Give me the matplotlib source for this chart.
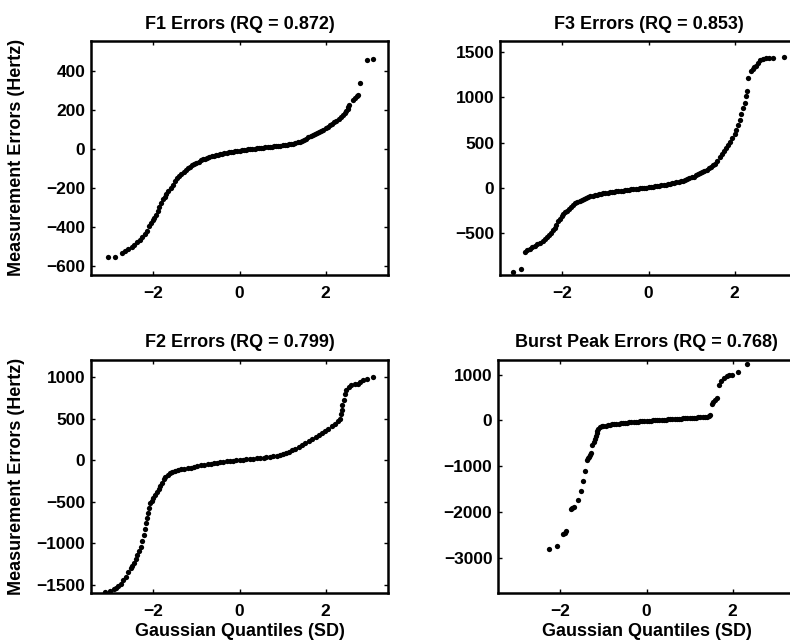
import matplotlib
matplotlib.use("Agg")
import matplotlib.pyplot as plt

plt.rcParams['font.family'] = ['Liberation Sans', 'DejaVu Sans']
plt.rcParams['font.weight'] = 'bold'

f1_q = [-3.05, -2.9, -2.72, -2.65, -2.58, -2.5, -2.44, -2.38, -2.32, -2.26, -2.2, -2.15, -2.1, -2.06, -2.02,
        -1.98, -1.94, -1.9, -1.86, -1.82, -1.78, -1.74, -1.7, -1.65, -1.6, -1.55, -1.5, -1.45, -1.4, -1.35,
        -1.3, -1.25, -1.2, -1.15, -1.1, -1.05, -1.0, -0.95, -0.9, -0.85, -0.8, -0.75, -0.7, -0.65, -0.6,
        -0.55, -0.5, -0.45, -0.4, -0.35, -0.3, -0.25, -0.2, -0.15, -0.1, -0.05, 0.0, 0.05, 0.1, 0.15, 0.2,
        0.25, 0.3, 0.35, 0.4, 0.45, 0.5, 0.55, 0.6, 0.65, 0.7, 0.75, 0.8, 0.85, 0.9, 0.95, 1.0, 1.05, 1.1,
        1.15, 1.2, 1.25, 1.3, 1.35, 1.4, 1.45, 1.5, 1.55, 1.6, 1.65, 1.7, 1.75, 1.8, 1.85, 1.9, 1.95, 2.0,
        2.05, 2.1, 2.15, 2.2, 2.25, 2.3, 2.35, 2.4, 2.44, 2.48, 2.51, 2.53, 2.55, 2.64, 2.68, 2.72, 2.75,
        2.8, 2.95, 3.09]
f1_err = [-555, -553, -535, -525, -515, -500, -490, -478, -466, -452, -435, -418, -395, -378, -365,
          -352, -338, -318, -295, -275, -258, -245, -232, -215, -200, -185, -165, -150, -138, -126,
          -115, -106, -98, -90, -82, -75, -70, -64, -58, -53, -48, -44, -40, -37, -34,
          -31, -28, -25, -23, -21, -19, -17, -15, -13, -11, -9, -7, -5, -4, -2, 0,
          1, 2, 3, 5, 6, 7, 8, 9, 10, 12, 13, 14, 16, 17, 18, 20, 21, 23,
          25, 27, 29, 32, 35, 38, 43, 48, 54, 60, 66, 72, 78, 84, 89, 94, 100, 108,
          116, 124, 130, 138, 147, 156, 166, 176, 186, 196, 206, 218, 228, 252, 262, 272, 280,
          340, 460, 465]

f3_q = [-3.14, -2.97, -2.88, -2.82, -2.76, -2.7, -2.64, -2.58, -2.52, -2.46, -2.4, -2.35, -2.3, -2.26,
        -2.22, -2.18, -2.14, -2.1, -2.06, -2.02, -1.98, -1.94, -1.9, -1.85, -1.8, -1.75, -1.7, -1.65, -1.6,
        -1.55, -1.5, -1.45, -1.4, -1.35, -1.3, -1.25, -1.2, -1.15, -1.1, -1.05, -1.0, -0.95, -0.9, -0.85,
        -0.8, -0.75, -0.7, -0.65, -0.6, -0.55, -0.5, -0.45, -0.4, -0.35, -0.3, -0.25, -0.2, -0.15, -0.1,
        -0.05, 0.0, 0.05, 0.1, 0.15, 0.2, 0.25, 0.3, 0.35, 0.4, 0.45, 0.5, 0.55, 0.6, 0.65, 0.7, 0.75, 0.8,
        0.85, 0.9, 0.95, 1.0, 1.05, 1.1, 1.15, 1.2, 1.25, 1.3, 1.35, 1.4, 1.45, 1.5, 1.55, 1.6, 1.65, 1.7,
        1.75, 1.8, 1.85, 1.9, 1.95, 2.0, 2.04, 2.08, 2.12, 2.16, 2.2, 2.23, 2.26, 2.28, 2.31, 2.38, 2.42,
        2.46, 2.5, 2.55, 2.6, 2.66, 2.72, 2.8, 2.9, 3.15]
f3_err = [-930, -895, -705, -690, -670, -655, -642, -625, -608, -590, -570, -548, -520, -495,
          -468, -444, -405, -370, -340, -312, -290, -270, -252, -232, -210, -190, -172, -158, -145,
          -132, -120, -110, -102, -95, -88, -82, -76, -71, -66, -62, -58, -54, -50, -46,
          -43, -40, -37, -34, -31, -28, -25, -21, -18, -15, -12, -9, -6, -3, 0,
          3, 6, 9, 12, 15, 19, 23, 27, 31, 35, 40, 45, 50, 55, 61, 67, 73, 80,
          88, 97, 106, 115, 125, 137, 150, 163, 175, 188, 202, 218, 232, 248, 268, 300, 335, 370,
          405, 440, 475, 510, 550, 595, 640, 690, 750, 815, 880, 940, 1010, 1065, 1210, 1290, 1315,
          1330, 1345, 1380, 1410, 1425, 1428, 1428, 1430, 1444]

f2_q = [-3.13, -3.02, -2.92, -2.87, -2.82, -2.76, -2.7, -2.64, -2.58, -2.53, -2.49, -2.45, -2.41, -2.38,
        -2.34, -2.3, -2.26, -2.22, -2.19, -2.17, -2.15, -2.13, -2.1, -2.07, -2.03, -2.0, -1.96, -1.92,
        -1.88, -1.84, -1.8, -1.76, -1.72, -1.67, -1.62, -1.56, -1.5, -1.43, -1.36, -1.28, -1.2, -1.12,
        -1.05, -0.98, -0.9, -0.82, -0.74, -0.66, -0.59, -0.52, -0.45, -0.38, -0.29, -0.22, -0.15, -0.08,
        0.0, 0.08, 0.16, 0.24, 0.32, 0.4, 0.48, 0.56, 0.62, 0.7, 0.78, 0.86, 0.93, 1.0, 1.07, 1.15, 1.22,
        1.3, 1.38, 1.45, 1.53, 1.61, 1.69, 1.77, 1.84, 1.91, 1.98, 2.06, 2.14, 2.22, 2.28, 2.33, 2.35,
        2.37, 2.39, 2.42, 2.45, 2.48, 2.54, 2.6, 2.68, 2.75, 2.8, 2.86, 2.96, 3.09]
f2_err = [-1590, -1575, -1555, -1540, -1515, -1485, -1445, -1400, -1350, -1300, -1270, -1240, -1185, -1140,
          -1090, -1040, -970, -900, -830, -760, -700, -640, -580, -520, -490, -460, -420, -380,
          -345, -305, -270, -230, -200, -178, -160, -145, -132, -120, -112, -105, -98, -90,
          -82, -74, -64, -56, -49, -43, -38, -33, -27, -22, -15, -10, -6, -3,
          0, 4, 8, 12, 16, 20, 24, 28, 32, 38, 45, 52, 60, 72, 85, 100, 118,
          140, 162, 182, 205, 228, 252, 276, 300, 325, 352, 380, 410, 440, 470, 500, 550,
          600, 660, 720, 790, 840, 880, 900, 915, 920, 935, 960, 980, 1000]

bp_q = [-2.26, -2.09, -1.95, -1.9, -1.86, -1.76, -1.72, -1.68, -1.59, -1.53, -1.47, -1.42, -1.38, -1.36,
        -1.34, -1.31, -1.29, -1.26, -1.23, -1.2, -1.18, -1.16, -1.14, -1.12, -1.08, -1.04, -1.0, -0.95,
        -0.9, -0.85, -0.8, -0.75, -0.7, -0.65, -0.6, -0.55, -0.5, -0.45, -0.4, -0.35, -0.3, -0.25, -0.2,
        -0.15, -0.1, -0.05, 0.0, 0.05, 0.1, 0.15, 0.2, 0.25, 0.3, 0.35, 0.4, 0.45, 0.5, 0.55, 0.6, 0.65,
        0.7, 0.75, 0.8, 0.85, 0.9, 0.95, 1.0, 1.05, 1.1, 1.15, 1.2, 1.25, 1.3, 1.35, 1.4, 1.44, 1.47,
        1.51, 1.55, 1.59, 1.64, 1.69, 1.74, 1.8, 1.86, 1.92, 1.98, 2.13, 2.33]
bp_err = [-2800, -2750, -2480, -2450, -2420, -1940, -1915, -1890, -1745, -1550, -1330, -1100, -870, -830,
          -800, -750, -710, -545, -470, -400, -330, -270, -220, -180, -150, -130, -120, -110,
          -100, -95, -88, -82, -76, -70, -63, -57, -51, -46, -41, -36, -32, -28, -24,
          -20, -16, -12, -8, -4, -1, 2, 5, 8, 11, 14, 17, 20, 23, 26, 29, 32,
          35, 38, 41, 44, 47, 50, 53, 56, 59, 62, 66, 70, 75, 80, 86, 95, 109,
          363, 400, 436, 487, 778, 872, 930, 967, 985, 996, 1054, 1236]

titles = ["F1 Errors (RQ = 0.872)", "F3 Errors (RQ = 0.853)",
          "F2 Errors (RQ = 0.799)", "Burst Peak Errors (RQ = 0.768)"]
panels = [(f1_q, f1_err), (f3_q, f3_err), (f2_q, f2_err), (bp_q, bp_err)]
yticks = [[-600, -400, -200, 0, 200, 400], [-500, 0, 500, 1000, 1500],
          [-1500, -1000, -500, 0, 500, 1000], [-3000, -2000, -1000, 0, 1000]]
ylims = [(-645, 555), (-960, 1620), (-1600, 1210), (-3770, 1330)]
# axes rectangles in figure fractions (right column runs past the page edge)
rects = [[0.1152, 0.572, 0.376, 0.364], [0.6329, 0.572, 0.376, 0.364],
         [0.1152, 0.076, 0.376, 0.364], [0.6304, 0.076, 0.376, 0.364]]

fig = plt.figure(figsize=(7.9, 6.42), dpi=100)
for i in range(4):
    ax = fig.add_axes(rects[i])
    q, e = panels[i]
    ax.plot(q, e, 'o', color='black', ms=3.8, mew=0)
    ax.set_xlim(-3.45, 3.45)
    ax.set_ylim(*ylims[i])
    ax.set_xticks([-2, 0, 2])
    ax.set_yticks(yticks[i])
    ax.tick_params(direction='in', top=True, right=True, length=3, width=1,
                   labelsize=12.5)
    ax.tick_params(axis='x', pad=8)
    ax.tick_params(axis='y', pad=4)
    for s in ax.spines.values():
        s.set_linewidth(1.8)
    ax.set_title(titles[i], fontsize=13, fontweight='bold', pad=9)
    if i % 2 == 0:
        ax.set_ylabel("Measurement Errors (Hertz)", fontsize=13, fontweight='bold')
        ax.yaxis.set_label_coords(-0.222, 0.5)
    if i >= 2:
        ax.set_xlabel("Gaussian Quantiles (SD)", fontsize=13, fontweight='bold', labelpad=3)

fig.savefig("out.png", dpi=100)
